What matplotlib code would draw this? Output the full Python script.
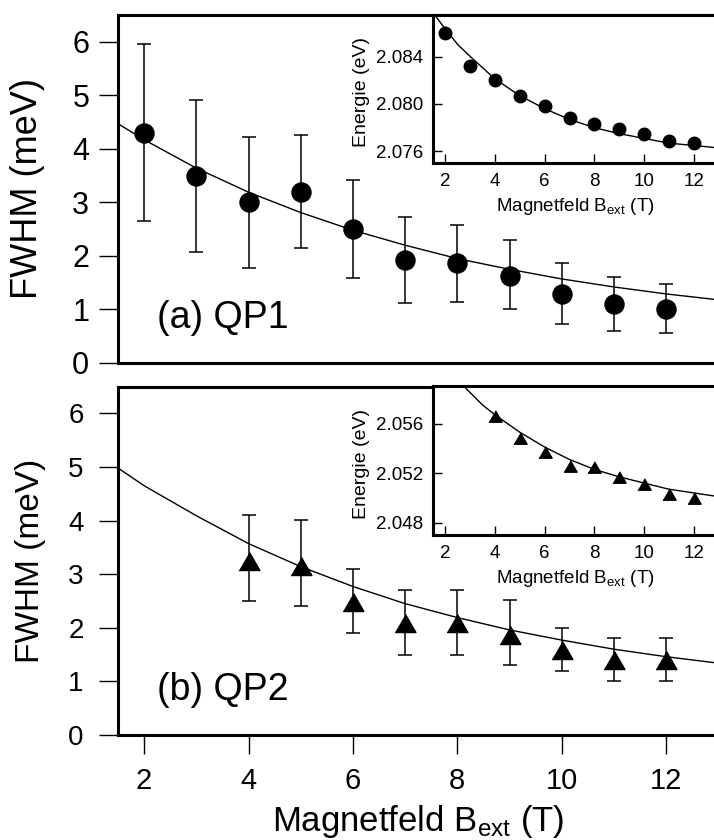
"""
Linienbreite (FWHM) und Energie zweier Quantenpunkt-Linien (QP1, QP2)
gegen das externe Magnetfeld, je mit Einsatz fuer die Emissionsenergie.
"""

import matplotlib
matplotlib.use('Agg')
import matplotlib.pyplot as plt


# ──────────────────────────────────────────────────────────────────────
#  DATA
# ──────────────────────────────────────────────────────────────────────
# (a) QP1 – FWHM with asymmetric error bars
B_qp1       = [2, 3, 4, 5, 6, 7, 8, 9, 10, 11, 12]
fwhm_qp1    = [4.30, 3.50, 3.00, 3.20, 2.50, 1.93, 1.86, 1.63, 1.29, 1.10, 1.01]
fwhm_qp1_hi = [5.96, 4.92, 4.22, 4.26, 3.42, 2.73, 2.57, 2.29, 1.86, 1.61, 1.48]
fwhm_qp1_lo = [2.66, 2.08, 1.78, 2.14, 1.58, 1.12, 1.14, 1.00, 0.73, 0.59, 0.56]

# (b) QP2
B_qp2       = [4, 5, 6, 7, 8, 9, 10, 11, 12]
fwhm_qp2    = [3.25, 3.16, 2.48, 2.09, 2.09, 1.87, 1.59, 1.39, 1.40]
fwhm_qp2_hi = [4.10, 4.01, 3.10, 2.71, 2.71, 2.51, 2.00, 1.80, 1.80]
fwhm_qp2_lo = [2.50, 2.41, 1.91, 1.50, 1.50, 1.30, 1.20, 1.01, 1.00]

# fit curves of the main panels
B_fit    = [1.5, 2, 3, 4, 5, 6, 7, 8, 9, 10, 11, 12, 13]
fit_qp1  = [4.47, 4.17, 3.64, 3.19, 2.81, 2.48, 2.20, 1.95, 1.75, 1.57, 1.42, 1.29, 1.18]
fit_qp2  = [4.98, 4.65, 4.09, 3.57, 3.14, 2.77, 2.45, 2.19, 1.96, 1.77, 1.60, 1.46, 1.34]

# insets – emission energy (eV)
E_qp1 = [2.0860, 2.0832, 2.0820, 2.0807, 2.0798, 2.0788, 2.0783, 2.0779,
         2.0775, 2.0769, 2.0767]
E_qp2 = [2.0566, 2.0548, 2.0537, 2.0526, 2.0525, 2.0517, 2.0511, 2.0503, 2.0500]

B_efit1 = [1.5, 2, 2.5, 3, 4, 5, 6, 7, 8, 9, 10, 11, 12, 13]
E_fit1  = [2.0877, 2.0863, 2.0850, 2.0840, 2.0821, 2.0807, 2.0796, 2.0787,
           2.0780, 2.0775, 2.0771, 2.0767, 2.0765, 2.0763]
B_efit2 = [2.5, 3, 3.5, 4, 5, 6, 7, 8, 9, 10, 11, 12, 13]
E_fit2  = [2.0595, 2.0585, 2.0575, 2.0567, 2.0553, 2.0541, 2.0531, 2.0523,
           2.0517, 2.0512, 2.0507, 2.0504, 2.0501]

x_ticks     = [2, 4, 6, 8, 10, 12]
y_ticks     = [0, 1, 2, 3, 4, 5, 6]
e_ticks_qp1 = [2.076, 2.080, 2.084]
e_ticks_qp2 = [2.048, 2.052, 2.056]

XLABEL = r'Magnetfeld B$_{\mathrm{ext}}$ (T)'


# ──────────────────────────────────────────────────────────────────────
#  STYLE
# ──────────────────────────────────────────────────────────────────────
plt.rcParams['font.family'] = ['Liberation Sans', 'DejaVu Sans']
plt.rcParams['mathtext.fontset'] = 'custom'
plt.rcParams['mathtext.rm'] = 'Liberation Sans'
plt.rcParams['mathtext.it'] = 'Liberation Sans:italic'

SPINE_W = 2.2
TRI = [(-1, -0.866), (1, -0.866), (0, 0.866)]   # equilateral triangle marker


def _yerr(y, hi, lo):
    return [[v - l for v, l in zip(y, lo)], [h - v for v, h in zip(y, hi)]]


def _style_main(ax, ysize, ypad):
    ax.set_xlim(1.5, 13)
    ax.set_ylim(0, 6.5)
    ax.set_yticks(y_ticks)
    ax.set_xticks(x_ticks)
    for s in ax.spines.values():
        s.set_linewidth(SPINE_W)
    ax.tick_params(axis='y', direction='out', length=13.7, width=1.0,
                   labelsize=ysize, pad=ypad)
    ax.tick_params(axis='x', direction='out', length=14, width=1.0,
                   labelsize=21, pad=9)


def _style_inset(ax, yticks, ylim):
    ax.set_xlim(1.5, 13)
    ax.set_ylim(*ylim)
    ax.set_xticks(x_ticks)
    ax.set_yticks(yticks)
    ax.set_yticklabels([f'{t:.3f}' for t in yticks])
    for s in ax.spines.values():
        s.set_linewidth(SPINE_W)
    ax.tick_params(direction='in', length=6.5, width=1.0, labelsize=13.5, pad=7)
    ax.set_xlabel(XLABEL, fontsize=13.5, va='baseline')
    ax.xaxis.set_label_coords(0.5, -0.32)
    ax.set_ylabel('Energie (eV)', fontsize=14, va='center')
    ax.yaxis.set_label_coords(-0.25, 0.48)


# ──────────────────────────────────────────────────────────────────────
#  FIGURE
# ──────────────────────────────────────────────────────────────────────
fig = plt.figure(figsize=(7.14, 8.4), dpi=100)

ax1 = fig.add_axes([0.16527, 0.56786, 0.84090, 0.41429])
ax2 = fig.add_axes([0.16527, 0.12500, 0.84090, 0.41488])
in1 = fig.add_axes([0.60644, 0.80560, 0.39986, 0.17655])
in2 = fig.add_axes([0.60644, 0.36310, 0.39986, 0.17679])

# (a) QP1
ax1.plot(B_fit, fit_qp1, color='black', lw=1.0)
ax1.errorbar(B_qp1, fwhm_qp1, yerr=_yerr(fwhm_qp1, fwhm_qp1_hi, fwhm_qp1_lo),
             fmt='o', color='black', ms=13.7, elinewidth=1.1,
             capsize=4.8, capthick=1.1)
_style_main(ax1, ysize=22, ypad=7)
ax1.tick_params(axis='x', bottom=False, labelbottom=False)
ax1.set_ylabel('FWHM (meV)', fontsize=26, va='center')
ax1.yaxis.set_label_coords(-0.15, 0.5)
ax1.text(0.065, 0.10, '(a) QP1', transform=ax1.transAxes, fontsize=27,
         ha='left', va='baseline')

# (b) QP2
ax2.plot(B_fit, fit_qp2, color='black', lw=1.0)
ax2.errorbar(B_qp2, fwhm_qp2, yerr=_yerr(fwhm_qp2, fwhm_qp2_hi, fwhm_qp2_lo),
             fmt='none', ecolor='black', elinewidth=1.1,
             capsize=4.8, capthick=1.1)
ax2.plot(B_qp2, fwhm_qp2, ls='none', marker=TRI, color='black', ms=15)
_style_main(ax2, ysize=20, ypad=11)
ax2.set_ylabel('FWHM (meV)', fontsize=24, va='center')
ax2.yaxis.set_label_coords(-0.145, 0.5)
ax2.set_xlabel(XLABEL, fontsize=25, va='baseline')
ax2.xaxis.set_label_coords(0.5, -0.275)
ax2.text(0.065, 0.10, '(b) QP2', transform=ax2.transAxes, fontsize=27,
         ha='left', va='baseline')

# insets
in1.plot(B_efit1, E_fit1, color='black', lw=1.0)
in1.plot(B_qp1, E_qp1, 'o', color='black', ms=9)
_style_inset(in1, e_ticks_qp1, (2.075, 2.0875))

in2.plot(B_efit2, E_fit2, color='black', lw=1.0)
in2.plot(B_qp2, E_qp2, ls='none', marker=TRI, color='black', ms=9.5)
_style_inset(in2, e_ticks_qp2, (2.047, 2.059))

fig.savefig('out.png', dpi=100)
